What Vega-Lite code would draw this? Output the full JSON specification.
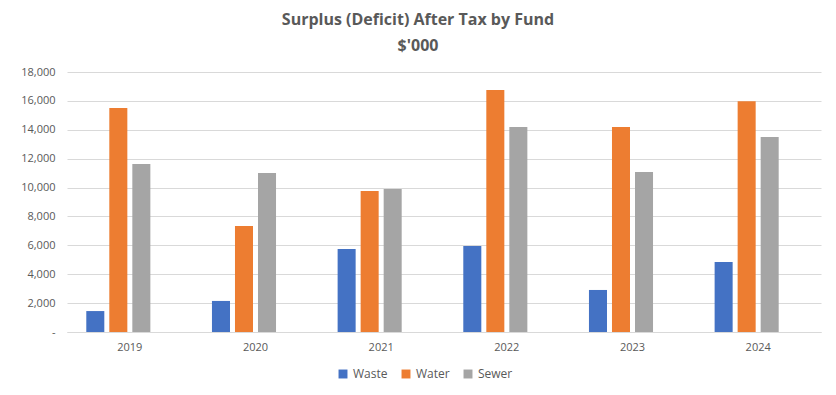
{
  "$schema": "https://vega.github.io/schema/vega-lite/v6.json",
  "width": 754,
  "height": 260,
  "autosize": {"type": "none"},
  "padding": {"left": 67, "top": 72, "right": 15, "bottom": 63},
  "background": "white",
  "title": {
    "text": ["Surplus (Deficit) After Tax by Fund", "$'000"],
    "anchor": "middle",
    "dx": -26,
    "fontSize": 16,
    "lineHeight": 26,
    "font": "Open Sans",
    "fontWeight": "bold",
    "color": "#595959",
    "offset": 12
  },
  "data": {
    "values": [
      {"year": "2019", "fund": "Waste", "value": 1450},
      {"year": "2019", "fund": "Water", "value": 15510},
      {"year": "2019", "fund": "Sewer", "value": 11630},
      {"year": "2020", "fund": "Waste", "value": 2150},
      {"year": "2020", "fund": "Water", "value": 7340},
      {"year": "2020", "fund": "Sewer", "value": 11010},
      {"year": "2021", "fund": "Waste", "value": 5750},
      {"year": "2021", "fund": "Water", "value": 9760},
      {"year": "2021", "fund": "Sewer", "value": 9900},
      {"year": "2022", "fund": "Waste", "value": 5950},
      {"year": "2022", "fund": "Water", "value": 16760},
      {"year": "2022", "fund": "Sewer", "value": 14200},
      {"year": "2023", "fund": "Waste", "value": 2910},
      {"year": "2023", "fund": "Water", "value": 14200},
      {"year": "2023", "fund": "Sewer", "value": 11080},
      {"year": "2024", "fund": "Waste", "value": 4850},
      {"year": "2024", "fund": "Water", "value": 15980},
      {"year": "2024", "fund": "Sewer", "value": 13500}
    ]
  },
  "mark": {"type": "bar"},
  "encoding": {
    "x": {
      "field": "year",
      "type": "nominal",
      "title": null,
      "scale": {"paddingInner": 0.307, "paddingOuter": 0.1535},
      "axis": {
        "labelAngle": 0,
        "ticks": false,
        "domain": true,
        "domainColor": "#D9D9D9",
        "labelColor": "#595959",
        "labelFont": "Open Sans",
        "labelFontSize": 11,
        "labelPadding": 9
      }
    },
    "xOffset": {
      "field": "fund",
      "type": "nominal",
      "scale": {"domain": ["Waste", "Water", "Sewer", " "], "paddingInner": 0.217, "paddingOuter": 0}
    },
    "y": {
      "field": "value",
      "type": "quantitative",
      "title": null,
      "scale": {"domain": [0, 18000], "nice": false},
      "axis": {
        "values": [0, 2000, 4000, 6000, 8000, 10000, 12000, 14000, 16000, 18000],
        "labelExpr": "datum.value == 0 ? '-' : format(datum.value, ',')",
        "domain": false,
        "ticks": false,
        "gridColor": "#D9D9D9",
        "gridWidth": 1,
        "labelColor": "#595959",
        "labelFont": "Open Sans",
        "labelFontSize": 11,
        "labelPadding": 12
      }
    },
    "color": {
      "field": "fund",
      "type": "nominal",
      "scale": {"domain": ["Waste", "Water", "Sewer"], "range": ["#4472C4", "#ED7D31", "#A5A5A5"]},
      "legend": {
        "title": null,
        "orient": "none",
        "legendX": 270,
        "legendY": 296,
        "direction": "horizontal",
        "symbolType": "square",
        "symbolSize": 80,
        "symbolStrokeWidth": 0,
        "labelColor": "#595959",
        "labelFont": "Open Sans",
        "labelFontSize": 12,
        "columnPadding": 12
      }
    }
  },
  "config": {
    "view": {"stroke": null}
  }
}
